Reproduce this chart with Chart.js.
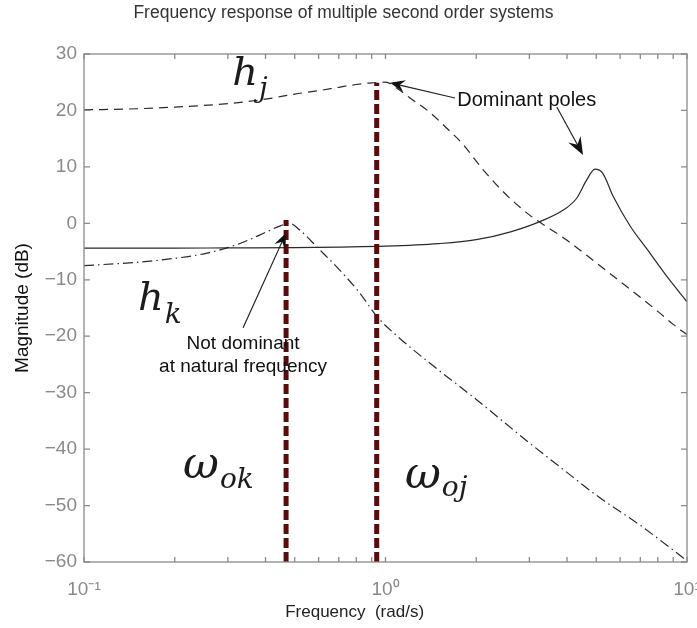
<!DOCTYPE html>
<html>
<head>
<meta charset="utf-8">
<script src="https://cdn.jsdelivr.net/npm/chart.js@4.4.0/dist/chart.umd.min.js"></script>
<style>
  html, body { margin: 0; padding: 0; background: #fff; }
</style>
</head>
<body>
<canvas id="chart" width="697" height="628"></canvas>
<script>
// values: frequency in rad/s, magnitude in dB
var freqJ = [0.1, 0.15, 0.2, 0.3, 0.4, 0.5, 0.6, 0.7, 0.8, 0.9, 1.0, 1.1, 1.2, 1.4, 1.6, 1.8, 2.1, 2.5, 3.0, 4.0, 5.0, 6.0, 7.0, 8.0, 9.0, 10.0];
var magJ  = [20.1, 20.3, 20.6, 21.2, 22.0, 22.9, 23.5, 24.1, 24.6, 24.9, 25.0, 23.8, 22.3, 19.7, 16.8, 14.1, 9.6, 5.2, 1.5, -3.0, -7.0, -10.3, -13.1, -15.6, -17.9, -19.7];

var freqS = [0.1, 0.2, 0.3, 0.5, 0.7, 1.0, 1.5, 2.0, 2.6, 3.25, 3.9, 4.3, 4.65, 4.95, 5.25, 5.7, 6.5, 7.4, 8.6, 10.0];
var magS  = [-4.4, -4.4, -4.35, -4.3, -4.2, -4.05, -3.6, -2.9, -1.5, 0.3, 2.4, 4.4, 7.7, 9.6, 8.9, 4.7, -0.6, -4.7, -9.5, -13.9];

var freqK = [0.1, 0.15, 0.2, 0.25, 0.3, 0.35, 0.4, 0.45, 0.48, 0.52, 0.6, 0.7, 0.82, 0.94, 1.1, 1.5, 2.0, 3.0, 3.8, 5.1, 7.0, 9.0, 10.0];
var magK  = [-7.5, -6.9, -6.2, -5.4, -4.3, -3.0, -1.6, -0.4, 0.0, -1.2, -4.5, -8.1, -12.3, -16.6, -20.1, -26.0, -31.2, -38.9, -43.2, -48.5, -53.5, -57.9, -59.8];

// natural frequencies marked with the red dashed bars, and their tops
var markerFreqs = [0.468, 0.935];
var markerTops  = [0.6, 24.9];

var xTicks = [0.1, 0.2, 0.3, 0.4, 0.5, 0.6, 0.7, 0.8, 0.9, 1, 2, 3, 4, 5, 6, 7, 8, 9, 10];
var xTickLabels = { '0.1': '10\u207B\u00B9', '1': '10\u2070', '10': '10\u00B9' };
var yMin = -60, yMax = 30, yStep = 10;

var FONT = '"Liberation Sans", Arial, Helvetica, sans-serif';
var MATH = '"DejaVu Serif", serif';
var AXIS_GREY = '#8a8a8a';

function pts(xs, ys) {
  return xs.map(function (x, i) { return { x: x, y: ys[i] }; });
}

function arrow(ctx, x0, y0, x1, y1, len, half) {
  var a = Math.atan2(y1 - y0, x1 - x0), c = Math.cos(a), s = Math.sin(a);
  ctx.beginPath();
  ctx.moveTo(x0, y0);
  ctx.lineTo(x1 - c * len * 0.6, y1 - s * len * 0.6);
  ctx.stroke();
  ctx.beginPath();
  ctx.moveTo(x1, y1);
  ctx.lineTo(x1 - c * len + s * half, y1 - s * len - c * half);
  ctx.lineTo(x1 - c * len * 0.65, y1 - s * len * 0.65);
  ctx.lineTo(x1 - c * len - s * half, y1 - s * len + c * half);
  ctx.closePath();
  ctx.fill();
}

function mathLabel(ctx, base, sub, x, y, size, subSize, dy) {
  ctx.font = 'italic ' + size + 'px ' + MATH;
  ctx.fillText(base, x, y);
  var w = ctx.measureText(base).width;
  ctx.font = 'italic ' + subSize + 'px ' + MATH;
  ctx.fillText(sub, x + w + 1, y + dy);
}

// box, inward ticks, x label and the hand-drawn notes of the original figure
var decorations = {
  id: 'decorations',
  afterDatasetsDraw: function (chart) {
    var ctx = chart.ctx, a = chart.chartArea;
    var xs = chart.scales.x, ys = chart.scales.y;
    var X = function (f) { return xs.getPixelForValue(f); };
    var Y = function (d) { return ys.getPixelForValue(d); };
    ctx.save();
    ctx.strokeStyle = AXIS_GREY;
    ctx.lineWidth = 1.3;
    ctx.strokeRect(a.left, a.top, a.right - a.left, a.bottom - a.top);
    ctx.beginPath();
    xTicks.forEach(function (v) {
      var x = X(v);
      ctx.moveTo(x, a.bottom); ctx.lineTo(x, a.bottom - 5);
      ctx.moveTo(x, a.top); ctx.lineTo(x, a.top + 5);
    });
    for (var v = yMin; v <= yMax; v += yStep) {
      var y = Y(v);
      ctx.moveTo(a.left, y); ctx.lineTo(a.left + 6, y);
      ctx.moveTo(a.right, y); ctx.lineTo(a.right - 6, y);
    }
    ctx.stroke();

    // x axis label, sits a little left of the axis centre in the original
    ctx.fillStyle = '#222';
    ctx.textAlign = 'center';
    ctx.textBaseline = 'alphabetic';
    ctx.font = '17px ' + FONT;
    ctx.fillText('Frequency  (rad/s)', X(0.79), 617);

    ctx.fillStyle = '#111';
    ctx.strokeStyle = '#222';
    ctx.lineWidth = 1.2;
    ctx.font = '20px ' + FONT;
    ctx.textAlign = 'left';
    ctx.fillText('Dominant poles', X(1.73), Y(20.7));
    arrow(ctx, X(1.70), Y(22.2), X(1.035), Y(24.9), 15, 6);
    arrow(ctx, X(3.70), Y(20.6), X(4.52), Y(12.1), 18, 7);

    ctx.textAlign = 'center';
    ctx.font = '19px ' + FONT;
    ctx.fillText('Not dominant', X(0.337), Y(-22.3));
    ctx.fillText('at natural frequency', X(0.337), Y(-26.3));
    arrow(ctx, X(0.337), Y(-18.5), X(0.468), Y(-1.7), 15, 6);

    ctx.textAlign = 'left';
    ctx.fillStyle = '#1c1c1c';
    mathLabel(ctx, 'h', 'j', X(0.310), Y(24.5), 40, 28, 12);
    mathLabel(ctx, 'h', 'k', X(0.151), Y(-15.4), 40, 28, 13);
    mathLabel(ctx, '\u03C9', 'ok', X(0.213), Y(-45.1), 44, 28, 10);
    mathLabel(ctx, '\u03C9', 'oj', X(1.16), Y(-46.9), 44, 28, 8);
    ctx.restore();
  }
};

var curveStyle = { borderColor: '#2a2a2a', borderWidth: 1.2, pointRadius: 0, fill: false,
                   cubicInterpolationMode: 'monotone', order: 1 };

var datasets = [
  Object.assign({ label: 'h_j', data: pts(freqJ, magJ), borderDash: [9, 6] }, curveStyle),
  Object.assign({ label: 'h', data: pts(freqS, magS) }, curveStyle),
  Object.assign({ label: 'h_k', data: pts(freqK, magK), borderDash: [10, 4, 1.5, 4] }, curveStyle)
];
markerFreqs.forEach(function (f, i) {
  datasets.push({
    label: 'marker' + i,
    data: [{ x: f, y: yMin }, { x: f, y: markerTops[i] }],
    borderColor: '#580d0d', borderWidth: 5, borderDash: [10, 4],
    pointRadius: 0, fill: false, order: 0
  });
});

new Chart(document.getElementById('chart'), {
  type: 'line',
  data: { datasets: datasets },
  plugins: [decorations],
  options: {
    responsive: false,
    animation: false,
    devicePixelRatio: 1,
    layout: { padding: { left: 0, right: 10, top: 0, bottom: 0 }, autoPadding: false },
    plugins: {
      legend: { display: false },
      tooltip: { enabled: false },
      title: {
        display: true,
        text: 'Frequency response of multiple second order systems',
        color: '#333',
        font: { family: FONT, size: 17.5, weight: 'normal' },
        padding: { top: 3, bottom: 30 }
      }
    },
    scales: {
      x: {
        type: 'logarithmic',
        min: 0.1, max: 10,
        grid: { display: false, drawTicks: false },
        border: { display: false },
        afterBuildTicks: function (scale) {
          scale.ticks = xTicks.map(function (v) { return { value: v }; });
        },
        afterFit: function (scale) {
          scale.height = 66;
          scale.paddingLeft = 0;
          scale.paddingRight = 0;
        },
        ticks: {
          autoSkip: false, maxRotation: 0, padding: 16,
          color: AXIS_GREY,
          font: { family: FONT, size: 19 },
          callback: function (v) { return xTickLabels[String(v)] || ''; }
        },
        title: { display: false }
      },
      y: {
        min: yMin, max: yMax,
        grid: { display: false, drawTicks: false },
        border: { display: false },
        afterFit: function (scale) {
          scale.width = 84;
          scale.paddingTop = 0;
          scale.paddingBottom = 0;
        },
        ticks: {
          stepSize: yStep, padding: 7,
          color: AXIS_GREY,
          font: { family: FONT, size: 19 },
          callback: function (v) { return v < 0 ? '\u2212' + Math.abs(v) : String(v); }
        },
        title: {
          display: true, text: 'Magnitude (dB)', color: '#111',
          font: { family: FONT, size: 19 }, padding: { top: 11, bottom: 0 }
        }
      }
    }
  }
});
</script>
</body>
</html>
